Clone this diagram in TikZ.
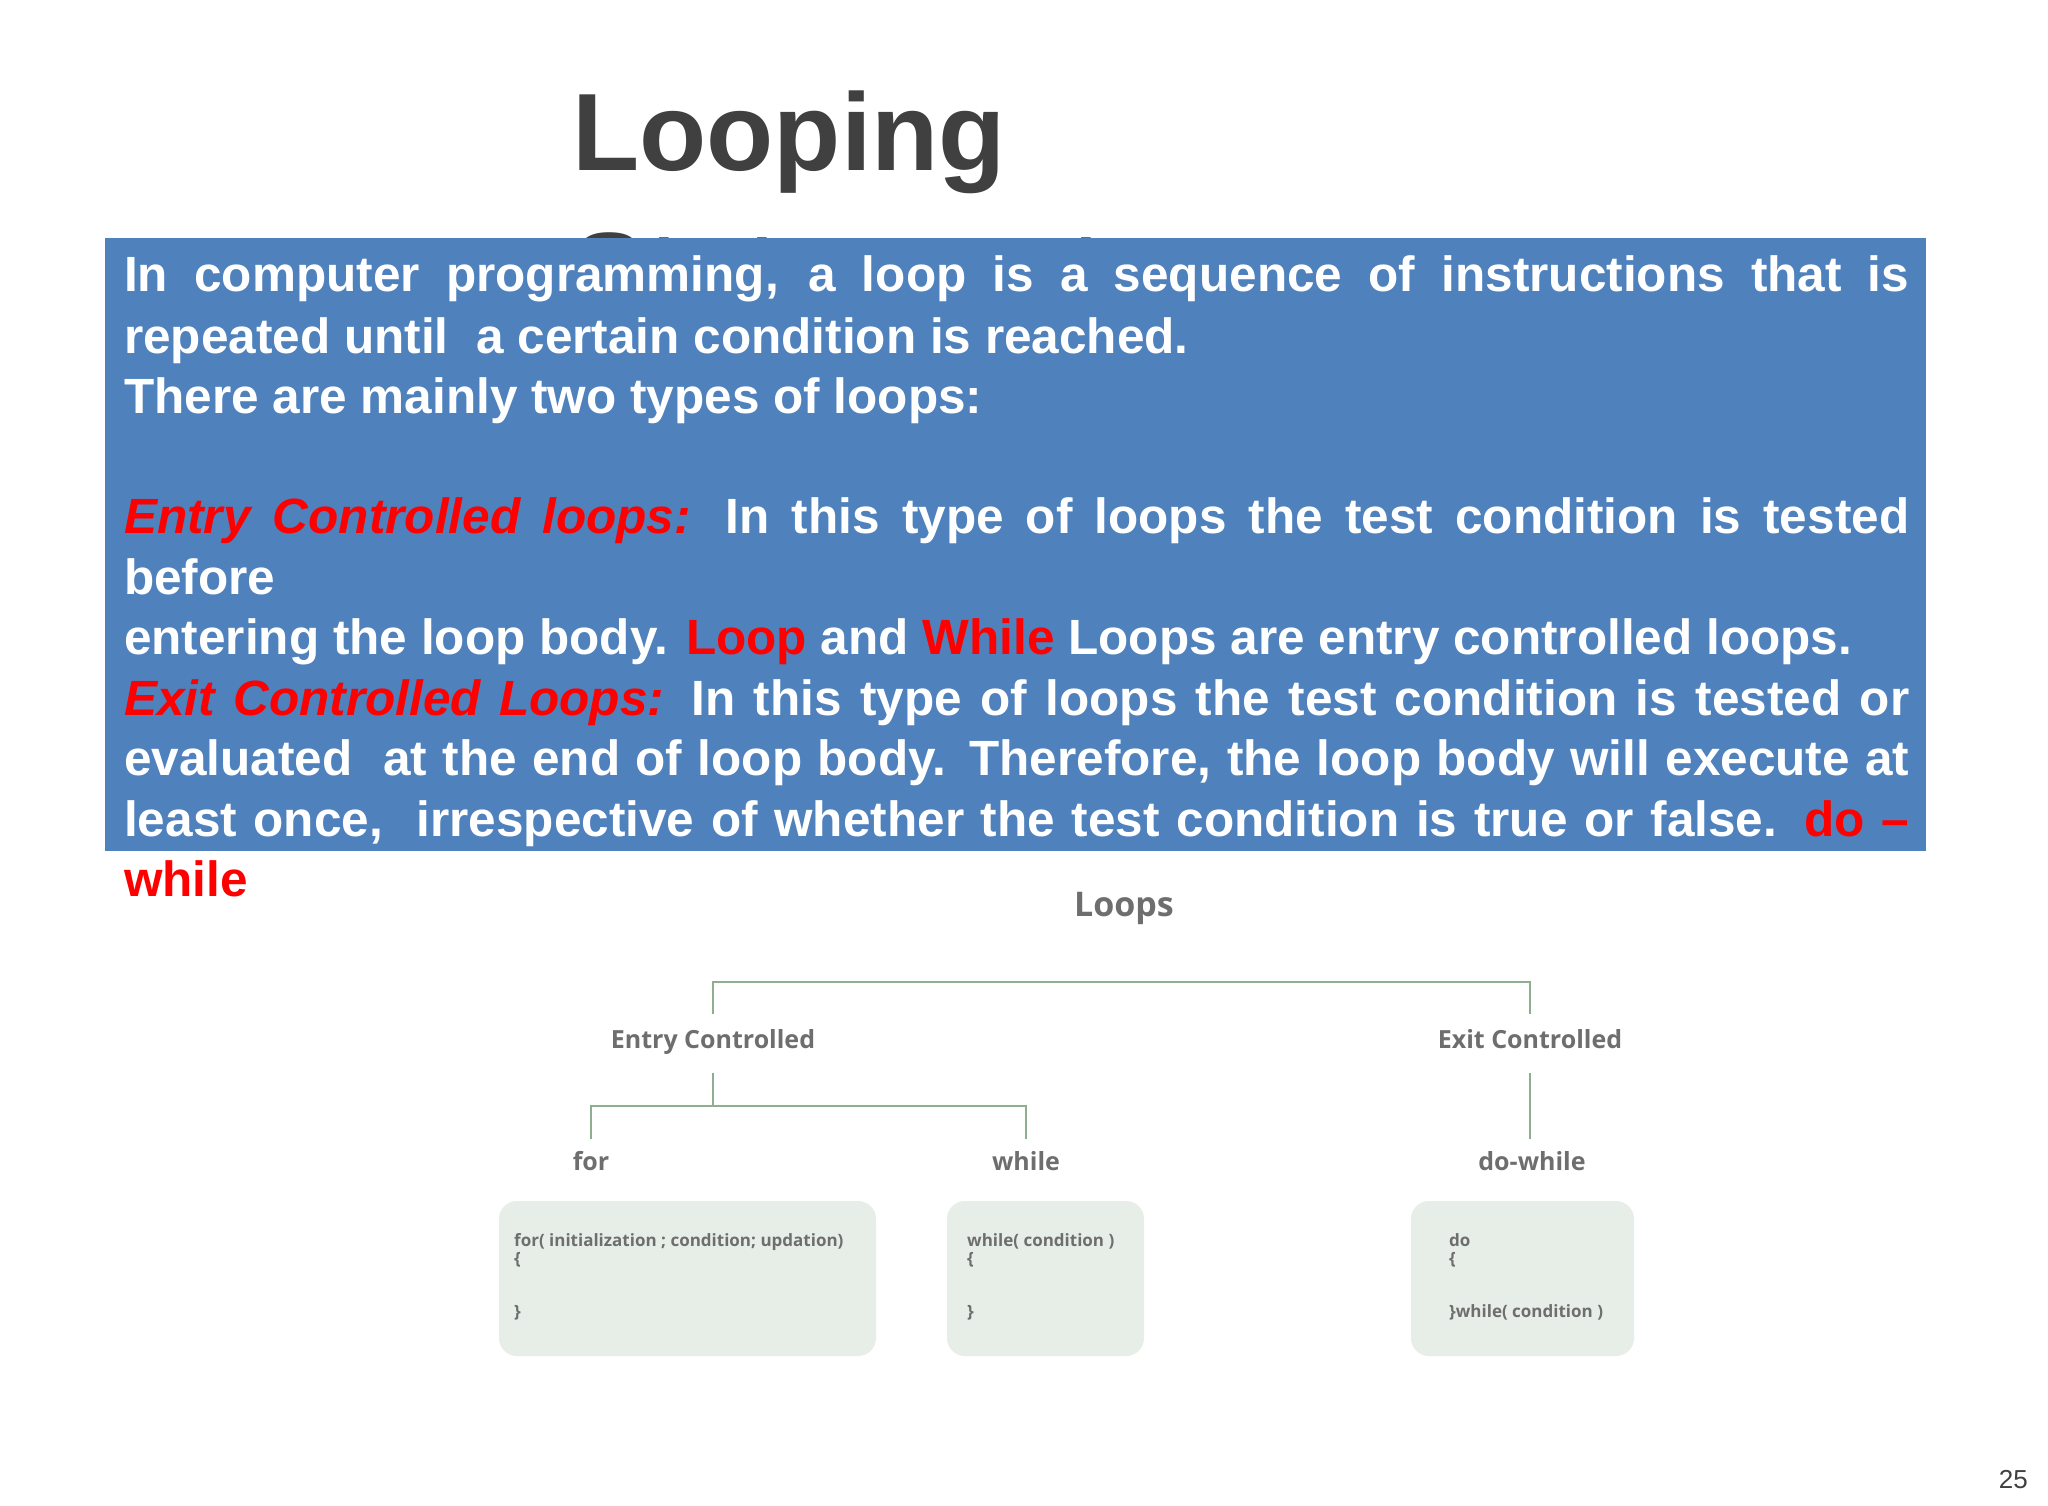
\documentclass[tikz,border=0pt]{standalone}
\usepackage{fontspec}
\setmainfont{Liberation Sans}
\newfontfamily\diag{Open Sans}
\definecolor{boxblue}{HTML}{4F81BD}
\definecolor{tgray}{HTML}{404040}
\definecolor{dgray}{HTML}{6E6E6E}
\definecolor{lgreen}{HTML}{8FAE8F}
\definecolor{cfill}{HTML}{E7EDE7}
\begin{document}
\begin{tikzpicture}[x=1pt,y=-1pt,
  ln/.style={anchor=base west,inner sep=0pt,text=white,font=\fontsize{49.5}{54}\selectfont\bfseries},
  lab/.style={inner sep=0pt,anchor=base,text=dgray,font=\diag\fontsize{25}{30}\selectfont\bfseries},
  code/.style={inner sep=0pt,anchor=base west,text=dgray,font=\diag\fontsize{17}{19}\selectfont\bfseries},
  cbox/.style={fill=cfill,rounded corners=18pt,draw=none},
  conn/.style={draw=lgreen,line width=2.2pt}]
\useasboundingbox (0,0) rectangle (2048,1506);
\fill[white] (0,0) rectangle (2048,1506);
% title
\node[anchor=base west,inner sep=0pt,text=tgray,font=\fontsize{110}{137}\selectfont\bfseries] (t1) at (572,171) {Looping};
\node[anchor=base west,inner sep=0pt,text=tgray,font=\fontsize{110}{137}\selectfont\bfseries] (t2) at (572,310) {Statements};
% blue box
\fill[boxblue] (105,238) rectangle (1926,851);
\def\W{1785pt}
\node[ln] (l1) at (124,292) {\makebox[\W][s]{In computer programming, a loop is a sequence of instructions that is}};
\node[ln] (l2) at (124,353) {repeated until\ \ a certain condition is reached.};
\node[ln] (l3) at (124,413) {There are mainly two types of loops:};
\node[ln] (l4) at (124,533) {\makebox[\W][s]{\textcolor{red}{\itshape Entry Controlled loops:} In this type of loops the test condition is tested}};
\node[ln] (l5) at (124,594) {before};
\node[ln] (l6) at (124,654) {entering the loop body. \textcolor{red}{Loop} and \textcolor{red}{While} Loops are entry controlled loops.};
\node[ln] (l7) at (124,715) {\makebox[\W][s]{\textcolor{red}{\itshape Exit Controlled Loops:} In this type of loops the test condition is tested or}};
\node[ln] (l8) at (124,775) {\makebox[\W][s]{evaluated\ \ at the end of loop body. Therefore, the loop body will execute at}};
\node[ln] (l9) at (124,836) {\makebox[\W][s]{least once,\ \ irrespective of whether the test condition is true or false. \textcolor{red}{do –}}};
\node[ln,text=red] (l10) at (124,896) {while};
% diagram
\begin{scope}[shift={(-8,-6)}]
\node[lab,font=\diag\fontsize{34}{40}\selectfont\bfseries] (loops) at (1132,922) {Loops};
\node[lab] (entry) at (721,1054) {Entry Controlled};
\node[lab] (exit) at (1538,1054) {Exit Controlled};
\node[lab] (for) at (599,1176) {for};
\node[lab] (while) at (1034,1176) {while};
\node[lab] (dowhile) at (1540,1176) {do-while};
\coordinate (a1) at (721,1020); \coordinate (a2) at (1538,1020);
\draw[conn] (a1) -- (721,988) -- (1538,988) -- (a2);
\coordinate (b0) at (721,1079); \coordinate (b1) at (599,1145); \coordinate (b2) at (1034,1145);
\draw[conn] (b0) -- (721,1112);
\draw[conn] (b1) -- (599,1112) -- (1034,1112) -- (b2);
\coordinate (c0) at (1538,1079); \coordinate (c1) at (1538,1145);
\draw[conn] (c0) -- (c1);
\fill[cbox] (507,1207) rectangle (884,1362);
\fill[cbox] (955,1207) rectangle (1152,1362);
\fill[cbox] (1419,1207) rectangle (1642,1362);
\node[code] (f1) at (522,1252) {for( initialization ; condition; updation)};
\node[code] (f2) at (522,1270) {\{};
\node[code] (f3) at (522,1323) {\}};
\node[code] (w1) at (975,1252) {while( condition )};
\node[code] (w2) at (975,1270) {\{};
\node[code] (w3) at (975,1323) {\}};
\node[code] (d1) at (1457,1252) {do};
\node[code] (d2) at (1457,1270) {\{};
\node[code] (d3) at (1457,1323) {\}while( condition )};
\end{scope}
\node[anchor=base east,inner sep=0pt,text=tgray,font=\fontsize{26}{30}\selectfont] (pg) at (2028,1488) {25};
\end{tikzpicture}
\end{document}
